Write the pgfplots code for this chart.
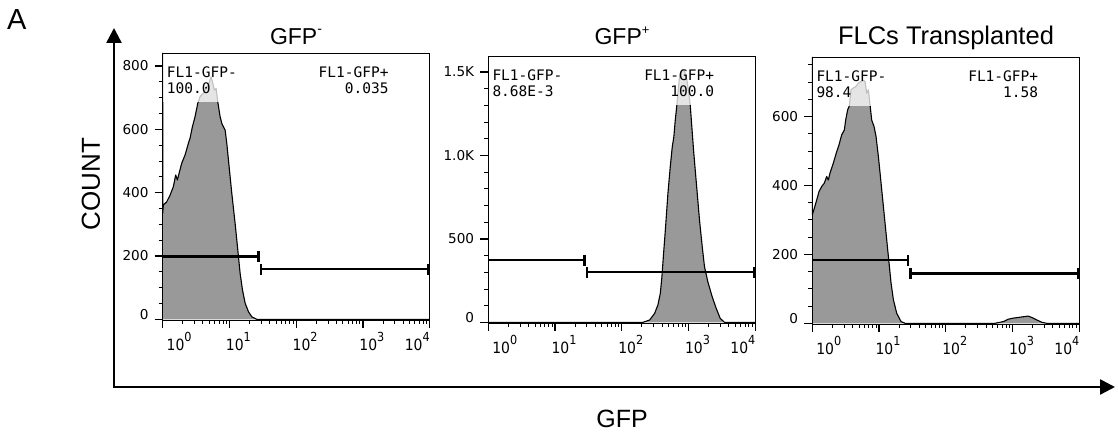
\documentclass[border=0pt]{standalone}
\usepackage{pgfplots}
\usepackage{pgfplotstable}
\pgfplotsset{compat=1.18}
\usepackage{graphicx}
\usepackage{fontspec}
\setmainfont{Liberation Sans}
\newfontfamily\tickfont{DejaVu Sans}
\newfontfamily\gatefont{DejaVu Sans Mono}
\usetikzlibrary{arrows.meta}
\definecolor{histgray}{RGB}{153,153,153}

\newcommand\xl[1]{\scalebox{0.9}[1]{\fontsize{15.5}{16}\tickfont 10\raisebox{9pt}{\fontsize{12.5}{13}\selectfont #1}}}
\newcommand\gf{\fontsize{14.5}{16}\gatefont}
\newcommand\zl{\raisebox{4.5pt}[0.729em][0pt]{0}}

\pgfplotstableread{
x y
1 841
1 335
1.023 361
1.148 371
1.288 392
1.445 419
1.567 456
1.660 440
1.758 461
1.928 493
2.163 519
2.427 556
2.570 572
2.786 608
3.055 640
3.350 682
3.631 703
4.074 714
4.416 729
4.842 740
5.309 766
5.559 750
5.957 724
6.310 729
6.683 687
7.244 640
7.674 619
8.128 608
8.610 598
9.120 556
9.886 482
10.84 398
12.16 303
13.34 219
14.45 145
15.67 93
17.18 51
19.28 24
21.63 8
25.70 0
10000 0
}\histA

\pgfplotstableread{
x y
1 0
207.5 0
261.2 14
310.5 54
347.5 104
377.6 174
399.0 273
422.7 413
452.9 573
490.9 773
532.1 932
570.2 1052
602.6 1112
632.4 1212
668.3 1302
691.8 1372
732.8 1472
805.4 1515
871.0 1505
944.1 1452
1011.6 1372
1059.3 1302
1119.4 1172
1188.5 1032
1258.9 913
1349.0 773
1458.8 613
1603.2 453
1733.8 333
1945.4 243
2259.4 153
2594.2 84
2978.5 24
3451.4 0
10000 0
}\histB

\pgfplotstableread{
x y
1 773
1 315
1.072 334
1.164 358
1.259 382
1.380 397
1.514 407
1.641 426
1.738 416
1.841 436
2.065 465
2.317 498
2.512 518
2.754 547
3.020 561
3.162 590
3.388 620
3.589 631
3.802 678
4.121 683
4.467 687
4.898 697
5.370 702
5.821 705
6.166 702
6.531 668
6.918 678
7.328 634
7.762 590
8.414 571
9.016 542
9.772 484
10.72 407
11.75 329
13.03 242
14.13 174
15.14 116
16.41 68
18.41 29
21.38 5
24.55 0
545.8 0
727.8 5
863.0 12
1025.6 15
1219.0 17
1448.8 19
1721.9 21
1932.0 17
2296.1 10
2729.1 3
3243.4 0
10000 0
}\histC

\pgfplotsset{
  flowaxis/.style={
    scale only axis, width=267pt, height=267pt,
    xmin=1, xmax=10000,
    xtick={1,10,100,1000,10000},
    minor xtick={2,3,4,5,6,7,8,9,20,30,40,50,60,70,80,90,200,300,400,500,600,700,800,900,2000,3000,4000,5000,6000,7000,8000,9000},
    xticklabels={\makebox[0pt][l]{\hspace{4pt}\xl{0}},\makebox[0pt][l]{\hspace{-3.5pt}\xl{1}},\makebox[0pt][l]{\hspace{-3.5pt}\xl{2}},\makebox[0pt][l]{\hspace{-3.5pt}\xl{3}},\makebox[0pt][r]{\xl{4}}},
    tick pos=left, tick align=outside,
    major tick length=8pt, minor tick length=4pt,
    every major tick/.append style={line width=1.3pt, black},
    every minor tick/.append style={line width=0.9pt, black},
    axis line style={line width=0.9pt},
    xticklabel style={anchor=north, inner sep=0pt, yshift=-3.7pt},
    yticklabel style={anchor=east, inner sep=0pt, xshift=-6pt, font=\fontsize{13.6}{15}\tickfont},
    clip=false, axis on top,
  },
  histfill/.style={fill=histgray, draw=none},
  histline/.style={black, line width=1.1pt, line join=round},
  gateline/.style={black, line width=2.3pt},
}

\begin{document}
\begin{tikzpicture}
\useasboundingbox (0,0) rectangle (1118pt,435pt);

% big axes arrows
\draw[line width=2.5pt, {Triangle[length=15pt,width=15pt]}-{Triangle[length=15pt,width=15pt]}]
  (114pt,407pt) -- (114pt,48pt) -- (1115pt,48pt);
\node[anchor=base west, inner sep=0pt, font=\fontsize{29}{30}\selectfont] at (7pt,405pt) {A};
\node[rotate=90, inner sep=0pt, font=\fontsize{26}{28}\selectfont] at (91pt,251pt) {COUNT};
\node[anchor=base, inner sep=0pt, font=\fontsize{25}{27}\selectfont] at (622pt,7pt) {GFP};

% titles
\node[anchor=base, inner sep=0pt, font=\fontsize{23}{24}\selectfont] at (296pt,390pt) {GFP\raisebox{0.5em}{\fontsize{14}{14}\selectfont -}};
\node[anchor=base, inner sep=0pt, font=\fontsize{23}{24}\selectfont] at (622pt,390pt) {GFP\raisebox{0.45em}{\fontsize{13}{13}\selectfont +}};
\node[anchor=base, inner sep=0pt, font=\fontsize{25.5}{27}\selectfont] at (946pt,390pt) {FLCs Transplanted};

% Panel 1
\begin{semilogxaxis}[flowaxis, at={(162.7pt,115pt)}, anchor=south west,
  ymin=-2, ymax=841,
  ytick={0,200,400,600,800}, yticklabels={\zl,200,400,600,800},
  minor ytick={50,100,150,250,300,350,450,500,550,650,700,750}]
  \addplot[histfill] table {\histA} \closedcycle;
  \addplot[histline] table {\histA};
  \addplot[gateline, -{Bar[width=11pt]}] coordinates {(1,198) (28.2,198)};
  \addplot[gateline, {Bar[width=11pt]}-{Bar[width=11pt]}] coordinates {(28.2,158) (10000,158)};
  \fill[white, opacity=0.75] (rel axis cs:0,1) rectangle ([xshift=80pt,yshift=-49pt]rel axis cs:0,1);
  \fill[white, opacity=0.75] ([xshift=-115pt]rel axis cs:1,1) rectangle ([xshift=-37pt,yshift=-49pt]rel axis cs:1,1);
  \node[anchor=base west, inner sep=0pt, font=\gf] at ([xshift=4pt,yshift=-24.5pt]rel axis cs:0,1) {FL1-GFP-};
  \node[anchor=base west, inner sep=0pt, font=\gf] at ([xshift=4pt,yshift=-40.5pt]rel axis cs:0,1) {100.0};
  \node[anchor=base east, inner sep=0pt, font=\gf] at ([xshift=-41pt,yshift=-24.5pt]rel axis cs:1,1) {FL1-GFP+};
  \node[anchor=base east, inner sep=0pt, font=\gf] at ([xshift=-41pt,yshift=-40.5pt]rel axis cs:1,1) {0.035};
\end{semilogxaxis}

% Panel 2
\begin{semilogxaxis}[flowaxis, at={(488.3pt,112pt)}, anchor=south west,
  ymin=-4, ymax=1596,
  ytick={0,500,1000,1500}, yticklabels={\zl,500,1.0K,1.5K},
  minor ytick={100,200,300,400,600,700,800,900,1100,1200,1300,1400}]
  \addplot[histfill] table {\histB} \closedcycle;
  \addplot[histline] table {\histB};
  \addplot[gateline, -{Bar[width=11pt]}] coordinates {(1,373) (28.8,373)};
  \addplot[gateline, {Bar[width=11pt]}-{Bar[width=11pt]}] coordinates {(28.8,300) (10000,300)};
  \fill[white, opacity=0.75] (rel axis cs:0,1) rectangle ([xshift=80pt,yshift=-49pt]rel axis cs:0,1);
  \fill[white, opacity=0.75] ([xshift=-115pt]rel axis cs:1,1) rectangle ([xshift=-37pt,yshift=-49pt]rel axis cs:1,1);
  \node[anchor=base west, inner sep=0pt, font=\gf] at ([xshift=4pt,yshift=-24.5pt]rel axis cs:0,1) {FL1-GFP-};
  \node[anchor=base west, inner sep=0pt, font=\gf] at ([xshift=4pt,yshift=-40.5pt]rel axis cs:0,1) {8.68E-3};
  \node[anchor=base east, inner sep=0pt, font=\gf] at ([xshift=-41pt,yshift=-24.5pt]rel axis cs:1,1) {FL1-GFP+};
  \node[anchor=base east, inner sep=0pt, font=\gf] at ([xshift=-41pt,yshift=-40.5pt]rel axis cs:1,1) {100.0};
\end{semilogxaxis}

% Panel 3
\begin{semilogxaxis}[flowaxis, at={(812.3pt,111pt)}, anchor=south west,
  ymin=-2, ymax=773,
  ytick={0,200,400,600}, yticklabels={\zl,200,400,600},
  minor ytick={50,100,150,250,300,350,450,500,550,650,700,750}]
  \addplot[histfill] table {\histC} \closedcycle;
  \addplot[histline] table {\histC};
  \addplot[gateline, -{Bar[width=11pt]}] coordinates {(1,183) (28.4,183)};
  \addplot[gateline, {Bar[width=11pt]}-{Bar[width=11pt]}] coordinates {(28.4,145) (10000,145)};
  \fill[white, opacity=0.75] (rel axis cs:0,1) rectangle ([xshift=80pt,yshift=-49pt]rel axis cs:0,1);
  \fill[white, opacity=0.75] ([xshift=-115pt]rel axis cs:1,1) rectangle ([xshift=-37pt,yshift=-49pt]rel axis cs:1,1);
  \node[anchor=base west, inner sep=0pt, font=\gf] at ([xshift=4pt,yshift=-24.5pt]rel axis cs:0,1) {FL1-GFP-};
  \node[anchor=base west, inner sep=0pt, font=\gf] at ([xshift=4pt,yshift=-40.5pt]rel axis cs:0,1) {98.4};
  \node[anchor=base east, inner sep=0pt, font=\gf] at ([xshift=-41pt,yshift=-24.5pt]rel axis cs:1,1) {FL1-GFP+};
  \node[anchor=base east, inner sep=0pt, font=\gf] at ([xshift=-41pt,yshift=-40.5pt]rel axis cs:1,1) {1.58};
\end{semilogxaxis}
\end{tikzpicture}
\end{document}
